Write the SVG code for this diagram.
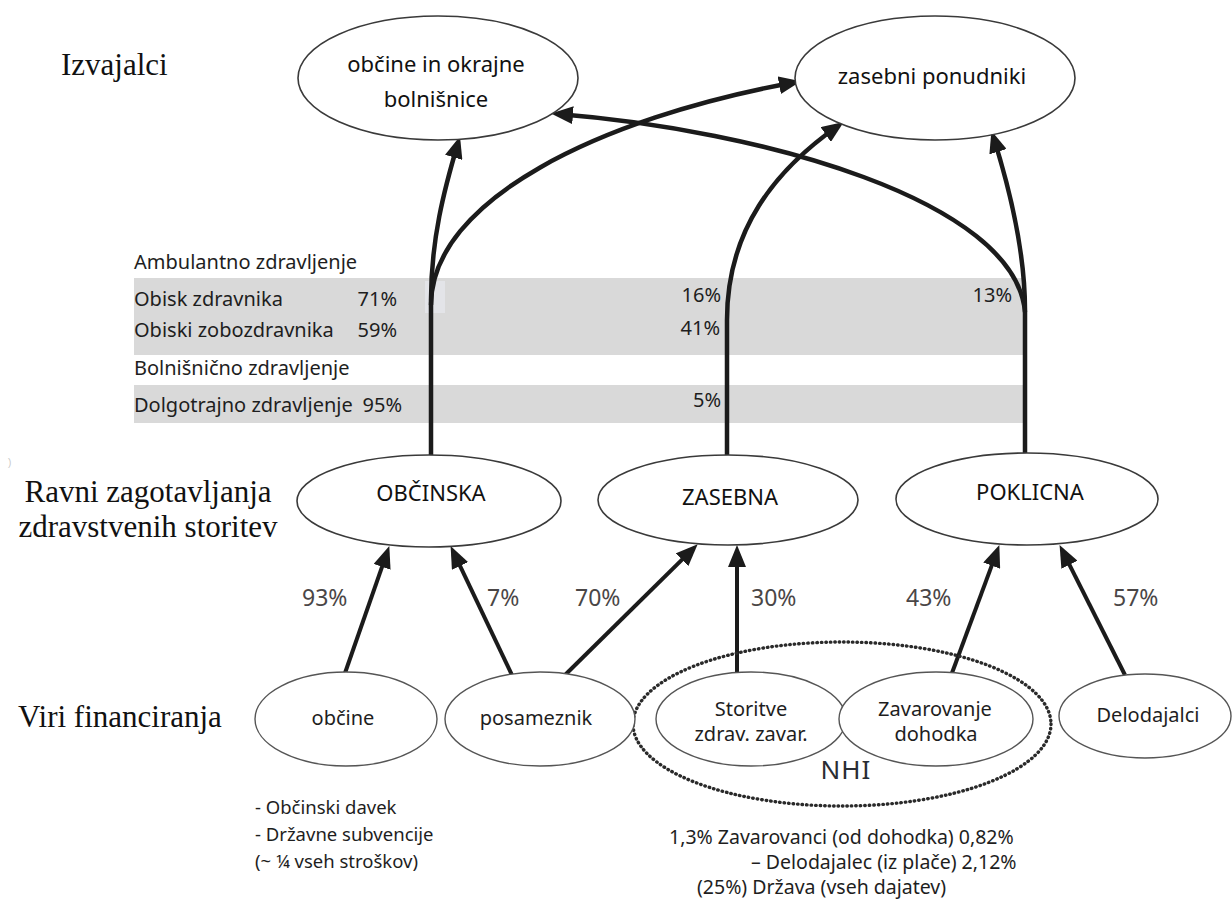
<svg xmlns="http://www.w3.org/2000/svg" width="1232" height="900" viewBox="0 0 1232 900">
  <style>
    .bg { fill: #ffffff; }
    .node { fill: #ffffff; stroke: #3a3a3a; stroke-width: 1.6; }
    .node-sm { fill: #ffffff; stroke: #555555; stroke-width: 1.4; }
    .band { fill: #d9d9d9; }
    .band-hi { fill: #e3e4e8; }
    .group-ring { fill: none; stroke: #2a2a2a; stroke-width: 3.4; stroke-linecap: round; stroke-dasharray: 0.5 4; }
    .link { fill: none; stroke: #1b1b1b; stroke-width: 4.5; }
    .link-up { fill: none; stroke: #1b1b1b; stroke-width: 4; }
    .head { fill: #1b1b1b; }
    .row-label { font-family: "Liberation Serif", "Times New Roman", serif; font-size: 31px; fill: #111111; }
    .t-top { font-family: "Noto Sans", "Open Sans", "DejaVu Sans", sans-serif; font-size: 22px; fill: #111111; text-anchor: middle; }
    .t-mid { font-family: "Noto Sans", "Open Sans", "DejaVu Sans", sans-serif; font-size: 22px; fill: #111111; text-anchor: middle; }
    .t-bot { font-family: "Noto Sans", "Open Sans", "DejaVu Sans", sans-serif; font-size: 20px; fill: #1e1e1e; text-anchor: middle; }
    .t-band { font-family: "Noto Sans", "Open Sans", "DejaVu Sans", sans-serif; font-size: 20px; fill: #1e1e1e; }
    .t-pct { font-family: "Noto Sans", "Open Sans", "DejaVu Sans", sans-serif; font-size: 23px; fill: #4a4646; }
    .t-note { font-family: "Noto Sans", "Open Sans", "DejaVu Sans", sans-serif; font-size: 18.5px; fill: #1e1e1e; }
    .t-note2 { font-family: "Noto Sans", "Open Sans", "DejaVu Sans", sans-serif; font-size: 19.5px; fill: #1e1e1e; }
    .t-nhi { font-family: "Noto Sans", "Open Sans", "DejaVu Sans", sans-serif; font-size: 26px; fill: #2a2d33; text-anchor: middle; letter-spacing: 1px; }
  </style>
  <defs>
    <marker id="arrow" viewBox="0 0 22 18" markerWidth="22" markerHeight="18" refX="15" refY="9" orient="auto" markerUnits="userSpaceOnUse">
      <path class="head" d="M0,0 L22,9 L0,18 z"/>
    </marker>
  </defs>

  <rect class="bg" x="0" y="0" width="1232" height="900"/>

  <!-- row captions on the left -->
  <g id="row-labels">
    <text class="row-label" x="61" y="75">Izvajalci</text>
    <text class="row-label" x="148" y="502" text-anchor="middle">Ravni zagotavljanja</text>
    <text class="row-label" x="148" y="537" text-anchor="middle">zdravstvenih storitev</text>
    <text class="row-label" x="18" y="727">Viri financiranja</text>
    <text x="8" y="466" font-family="Liberation Sans, sans-serif" font-size="10" fill="#c8c8c8">)</text>
  </g>

  <!-- shares of care by sector -->
  <g id="shares-table">
    <rect class="band" x="134" y="278" width="891" height="77"/>
    <rect class="band-hi" x="425" y="281" width="20" height="32"/>
    <rect class="band" x="134" y="385" width="890" height="38"/>
    <text class="t-band" x="134" y="269">Ambulantno zdravljenje</text>
    <text class="t-band" x="134" y="306">Obisk zdravnika</text>
    <text class="t-band" x="397" y="306" text-anchor="end">71%</text>
    <text class="t-band" x="134" y="337">Obiski zobozdravnika</text>
    <text class="t-band" x="397" y="337" text-anchor="end">59%</text>
    <text class="t-band" x="134" y="375">Bolnišnično zdravljenje</text>
    <text class="t-band" x="134" y="412">Dolgotrajno zdravljenje</text>
    <text class="t-band" x="402" y="412" text-anchor="end">95%</text>
    <text class="t-band" x="721" y="302" text-anchor="end">16%</text>
    <text class="t-band" x="720" y="335" text-anchor="end">41%</text>
    <text class="t-band" x="721" y="407" text-anchor="end">5%</text>
    <text class="t-band" x="1012" y="302" text-anchor="end">13%</text>
  </g>

  <!-- connectors -->
  <g id="connectors">
    <!-- provision levels up to providers -->
    <path class="link" d="M431,455 L431,300 C431,240 444,190 458,143" marker-end="url(#arrow)"/>
    <path class="link" d="M431,305 C431,200 600,118 794,82.5" marker-end="url(#arrow)"/>
    <path class="link" d="M727,455 L727,320 C727,230 775,170 838,126" marker-end="url(#arrow)"/>
    <path class="link" d="M1025,455 L1025,310 C1025,250 1010,190 993.5,137.4" marker-end="url(#arrow)"/>
    <path class="link" d="M1025,312 C1015,200 760,130 558,114" marker-end="url(#arrow)"/>
    <!-- funding sources up to provision levels -->
    <path class="link-up" d="M345,673 L387,552.7" marker-end="url(#arrow)"/>
    <path class="link-up" d="M512,675 L453.6,552.4" marker-end="url(#arrow)"/>
    <path class="link-up" d="M565,675 L692.7,549.2" marker-end="url(#arrow)"/>
    <path class="link-up" d="M737,673 L737,552" marker-end="url(#arrow)"/>
    <path class="link-up" d="M952,673 L996.9,551.6" marker-end="url(#arrow)"/>
    <path class="link-up" d="M1125,675 L1062.7,551.3" marker-end="url(#arrow)"/>
  </g>

  <!-- providers -->
  <g id="node-obcine-bolnisnice">
    <ellipse class="node" cx="438" cy="78" rx="140" ry="62"/>
    <text class="t-top" x="436" y="72">občine in okrajne</text>
    <text class="t-top" x="436" y="107">bolnišnice</text>
  </g>
  <g id="node-zasebni-ponudniki">
    <ellipse class="node" cx="935" cy="78" rx="140" ry="62"/>
    <text class="t-top" x="932" y="84">zasebni ponudniki</text>
  </g>

  <!-- provision levels -->
  <g id="node-obcinska">
    <ellipse class="node" cx="429" cy="501" rx="132" ry="46"/>
    <text class="t-mid" x="431" y="501">OBČINSKA</text>
  </g>
  <g id="node-zasebna">
    <ellipse class="node" cx="728" cy="500" rx="130" ry="45"/>
    <text class="t-mid" x="730" y="505">ZASEBNA</text>
  </g>
  <g id="node-poklicna">
    <ellipse class="node" cx="1027" cy="499" rx="131" ry="46"/>
    <text class="t-mid" x="1030" y="500">POKLICNA</text>
  </g>

  <!-- share labels on funding arrows -->
  <g id="funding-shares">
    <text class="t-pct" x="302" y="606">93%</text>
    <text class="t-pct" x="487" y="606">7%</text>
    <text class="t-pct" x="575" y="606">70%</text>
    <text class="t-pct" x="751" y="606">30%</text>
    <text class="t-pct" x="906" y="606">43%</text>
    <text class="t-pct" x="1113" y="606">57%</text>
  </g>

  <!-- funding sources -->
  <g id="node-nhi">
    <ellipse class="group-ring" cx="842" cy="724" rx="209" ry="82"/>
    <text class="t-nhi" x="846" y="779">NHI</text>
  </g>
  <g id="node-obcine">
    <ellipse class="node-sm" cx="346" cy="719" rx="91" ry="47"/>
    <text class="t-bot" x="343" y="725">občine</text>
  </g>
  <g id="node-posameznik">
    <ellipse class="node-sm" cx="540" cy="719" rx="95" ry="47"/>
    <text class="t-bot" x="536" y="725">posameznik</text>
  </g>
  <g id="node-storitve">
    <ellipse class="node-sm" cx="751" cy="719" rx="95" ry="47"/>
    <text class="t-bot" x="751" y="716">Storitve</text>
    <text class="t-bot" x="751" y="741">zdrav. zavar.</text>
  </g>
  <g id="node-zavarovanje">
    <ellipse class="node-sm" cx="936" cy="719" rx="97" ry="47"/>
    <text class="t-bot" x="935" y="716">Zavarovanje</text>
    <text class="t-bot" x="936" y="741">dohodka</text>
  </g>
  <g id="node-delodajalci">
    <ellipse class="node-sm" cx="1145" cy="716" rx="86" ry="42"/>
    <text class="t-bot" x="1148" y="722">Delodajalci</text>
  </g>

  <!-- notes under the funding sources -->
  <g id="notes">
    <text class="t-note" x="255" y="814">- Občinski davek</text>
    <text class="t-note" x="255" y="841">- Državne subvencije</text>
    <text class="t-note" x="255" y="868">(~ ¼ vseh stroškov)</text>
    <text class="t-note2" x="669" y="844">1,3% Zavarovanci (od dohodka) 0,82%</text>
    <text class="t-note2" x="751" y="869">–  Delodajalec (iz plače) 2,12%</text>
    <text class="t-note2" x="697" y="894">(25%) Država (vseh dajatev)</text>
  </g>
</svg>
